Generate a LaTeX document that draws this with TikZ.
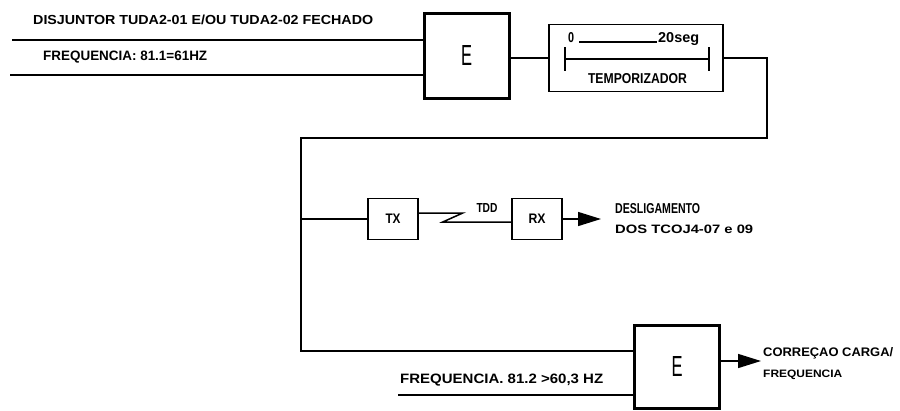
\documentclass[tikz,border=0pt]{standalone}
\usepackage{fontspec}
\setmainfont{Liberation Sans}
\usetikzlibrary{arrows.meta, positioning, calc}

\begin{document}
\begin{tikzpicture}[x=1pt, y=-1pt,
    every node/.style={inner sep=0pt},
    gate/.style={draw, line width=3pt, minimum width=85pt, minimum height=85pt},
    blk/.style={draw, line width=1.5pt, minimum width=50pt, minimum height=41pt},
    tmrbox/.style={draw, line width=1.5pt, minimum width=174pt, minimum height=67pt},
    lbl/.style={anchor=west},
    wire/.style={line width=1.5pt},
    dp/.style={-{Triangle[length=23pt, width=14pt]}, line width=1.5pt}
]
% CAD-like text: width, cap height, text
\newcommand{\cad}[3]{\resizebox{#1pt}{#2pt}{\bfseries #3}}
\newcommand{\bigE}{\resizebox{11pt}{20pt}{E}}
\useasboundingbox (0,0) rectangle (900,410);

% first AND gate and its inputs
\node[gate] (e1) at (466.5,55.5) {\bigE};
\node[tmrbox] (tmr) at (636,58) {};
\coordinate (in1) at (12,40);
\coordinate (in2) at (10,75);
\draw[wire] (in1) -- (in1 -| e1.west);
\draw[wire] (in2) -- (in2 -| e1.west);
\node[lbl] (dj) at (33,20) {\cad{340}{9.5}{DISJUNTOR TUDA2-01 E/OU TUDA2-02 FECHADO}};
\node[lbl] (f1) at (43,57) {\cad{164}{9.5}{FREQUENCIA: 81.1=61HZ}};
\draw[wire] (e1.east |- tmr.west) -- (tmr.west);

% timer
\coordinate (b1) at (565,59);
\coordinate (b2) at (709,59);
\draw[wire] (b1) -- (b2);
\draw[wire] ([yshift=12pt]b1) -- ([yshift=-12pt]b1);
\draw[wire] ([yshift=12pt]b2) -- ([yshift=-12pt]b2);
\node[anchor=base west] (t0) at (568,42) {\cad{6}{10}{0}};
\node[anchor=base west] (t20) at (658,42) {\cad{41}{10}{20seg}};
\draw[wire] ([xshift=5pt]t0.base east) -- ([xshift=-1pt]t20.base west);
\node (tname) at (637.5,79) {\cad{99}{10}{TEMPORIZADOR}};

% second AND gate
\node[gate, minimum height=83pt] (e2) at (677,366.5) {\bigE};

% feedback loop from timer
\coordinate (c1) at (767,138);
\coordinate (c2) at (301,138);
\coordinate (c3) at (301,351);
\draw[wire] (tmr.east) -| (c1) -- (c2) -- (c3) -- (c3 -| e2.west);

% teleprotection
\node[blk] (tx) at (393,219) {\cad{15}{9.5}{TX}};
\node[blk] (rx) at (537,219) {\cad{17}{9.5}{RX}};
\draw[wire] (c2 |- tx.west) -- (tx.west);
\draw[wire] ([yshift=6pt]tx.east) -- ++(44,0) -- ++(-20,9) -- ([yshift=-3pt]rx.west);
\node (tdd) at (487,207.5) {\cad{21}{9}{TDD}};
\coordinate (a1) at (601,219);
\draw[dp] (rx.east) -- (a1);
\node[lbl] (dsl) at (615,209) {\cad{85}{10}{DESLIGAMENTO}};
\node[lbl] (dos) at (615,229.5) {\cad{138}{8.5}{DOS TCOJ4-07 e 09}};

% second gate inputs and output
\coordinate (in3) at (398,395);
\draw[wire] (in3) -- (in3 -| e2.west);
\node[lbl] (f2) at (400,380) {\cad{203}{9.5}{FREQUENCIA. 81.2 >60,3 HZ}};
\coordinate (a2) at (761,361);
\draw[dp] (e2.east |- a2) -- (a2);
\node[anchor=base west] (cor) at (763,356.5) {\cad{130}{9}{CORREÇAO CARGA/}};
\node[lbl] (frq) at (763,375) {\cad{79}{7.5}{FREQUENCIA}};
\end{tikzpicture}
\end{document}
